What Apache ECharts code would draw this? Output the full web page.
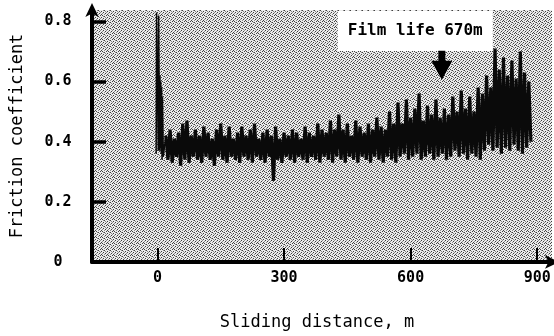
<!DOCTYPE html>
<html>
<head>
<meta charset="utf-8">
<script src="https://cdn.jsdelivr.net/npm/echarts@6/dist/echarts.min.js"></script>
<style>
html, body { margin: 0; padding: 0; background: #fff; }
#chart { width: 554px; height: 336px; }
</style>
</head>
<body>
<div id="chart"></div>
<script>
// run-in spike right at the start of sliding
const startDistance = [-3, -2, 2, 3, 5, 6, 7, 8, 9, 10, 11, 12, 14, 20];
const startFriction = [0.36, 0.83, 0.37, 0.82, 0.37, 0.62, 0.38, 0.60, 0.36, 0.58, 0.34, 0.55, 0.35, 0.42];

// steady part, one bin every 10 m: peak at the bin start, trough 5 m later
const binDistance = [20, 30, 40, 50, 60, 70, 80, 90, 100, 110, 120, 130, 140, 150, 160, 170, 180, 190,
	200, 210, 220, 230, 240, 250, 260, 270, 280, 290, 300, 310, 320, 330, 340, 350, 360, 370, 380, 390,
	400, 410, 420, 430, 440, 450, 460, 470, 480, 490, 500, 510, 520, 530, 540, 550, 560, 570, 580, 590,
	600, 610, 620, 630, 640, 650, 660, 670, 680, 690, 700, 710, 720, 730, 740, 750, 760, 770, 780, 790,
	800, 810, 820, 830, 840, 850, 860, 870, 880];
const binHigh = [0.42, 0.44, 0.41, 0.43, 0.46, 0.47, 0.42, 0.44, 0.42, 0.45, 0.43, 0.41, 0.44, 0.46, 0.42, 0.45, 0.41, 0.43,
	0.45, 0.42, 0.44, 0.46, 0.41, 0.43, 0.44, 0.42, 0.45, 0.41, 0.43, 0.42, 0.44, 0.43, 0.41, 0.45, 0.43, 0.42, 0.46, 0.44,
	0.43, 0.47, 0.44, 0.49, 0.44, 0.46, 0.42, 0.47, 0.45, 0.43, 0.46, 0.44, 0.48, 0.45, 0.44, 0.50, 0.46, 0.53, 0.46, 0.54,
	0.48, 0.51, 0.56, 0.47, 0.52, 0.49, 0.54, 0.48, 0.51, 0.49, 0.55, 0.50, 0.57, 0.51, 0.55, 0.50, 0.58, 0.56, 0.62, 0.58,
	0.71, 0.64, 0.68, 0.62, 0.67, 0.61, 0.70, 0.63, 0.60];
const binLow = [0.34, 0.33, 0.35, 0.32, 0.34, 0.33, 0.35, 0.34, 0.33, 0.35, 0.34, 0.32, 0.35, 0.34, 0.33, 0.35, 0.34, 0.33,
	0.35, 0.34, 0.33, 0.35, 0.34, 0.33, 0.35, 0.27, 0.34, 0.33, 0.35, 0.34, 0.33, 0.35, 0.34, 0.33, 0.35, 0.34, 0.33, 0.35,
	0.34, 0.33, 0.35, 0.34, 0.33, 0.35, 0.34, 0.33, 0.35, 0.34, 0.33, 0.35, 0.34, 0.33, 0.35, 0.34, 0.33, 0.35, 0.36, 0.34,
	0.35, 0.36, 0.34, 0.35, 0.36, 0.34, 0.35, 0.36, 0.34, 0.35, 0.37, 0.35, 0.36, 0.34, 0.36, 0.35, 0.34, 0.37, 0.39, 0.37,
	0.38, 0.36, 0.38, 0.37, 0.39, 0.37, 0.36, 0.38, 0.40];

const xTicks = [0, 300, 600, 900];
const yTicks = [0, 0.2, 0.4, 0.6, 0.8];
const filmLife = 670;

const startTrace = startDistance.map((d, i) => [d, startFriction[i]]);
const trace = [];
binDistance.forEach((d, i) => {
	trace.push([d, binHigh[i]]);
	trace.push([d + 5, binLow[i]]);
});

// halftone screen of the scanned figure
function halftone() {
	const tile = ['LDLLML', 'MLLDLL', 'LLMLLD', 'DLLLDL', 'LMDLLL', 'LLLMLD'];
	const shade = {L: '#ececec', D: '#404040', M: '#8a8a8a'};
	const c = document.createElement('canvas');
	c.width = 6;
	c.height = 6;
	const ctx = c.getContext('2d');
	tile.forEach((row, y) => {
		row.split('').forEach((k, x) => {
			ctx.fillStyle = shade[k];
			ctx.fillRect(x, y, 1, 1);
		});
	});
	return c;
}

const mono = "'DejaVu Sans Mono', monospace";
const chart = echarts.init(document.getElementById('chart'));

chart.setOption({
	animation: false,
	grid: {
		left: 92,
		right: 2,
		top: 10,
		bottom: 64,
		show: true,
		borderWidth: 0,
		backgroundColor: {image: halftone(), repeat: 'repeat'},
	},
	xAxis: {
		type: 'value',
		min: -155,
		max: 935,
		name: 'Sliding distance, m',
		nameLocation: 'middle',
		nameGap: 52,
		nameTextStyle: {fontFamily: mono, fontSize: 17, color: '#000', padding: [0, 10, 0, 0]},
		splitLine: {show: false},
		axisLine: {
			onZero: false,
			symbol: ['none', 'arrow'],
			symbolSize: [10, 14],
			symbolOffset: [0, 7],
			lineStyle: {color: '#000', width: 4},
		},
		axisTick: {inside: true, length: 14, customValues: xTicks, lineStyle: {color: '#000', width: 2}},
		axisLabel: {
			customValues: xTicks,
			margin: 9,
			fontFamily: mono,
			fontWeight: 'bold',
			fontSize: 15,
			color: '#000',
		},
	},
	yAxis: {
		type: 'value',
		min: 0,
		max: 0.838,
		name: 'Friction coefficient',
		nameLocation: 'middle',
		nameRotate: 90,
		nameGap: 66,
		nameTextStyle: {fontFamily: mono, fontSize: 17, color: '#000'},
		splitLine: {show: false},
		axisLine: {
			show: true,
			onZero: false,
			symbol: ['none', 'arrow'],
			symbolSize: [10, 14],
			symbolOffset: [0, 7],
			lineStyle: {color: '#000', width: 4},
		},
		axisTick: {show: true, inside: true, length: 14, customValues: yTicks, lineStyle: {color: '#000', width: 3.5}},
		axisLabel: {
			customValues: yTicks,
			align: 'center',
			margin: 34,
			fontFamily: mono,
			fontWeight: 'bold',
			fontSize: 15,
			color: '#000',
		},
	},
	series: [
		{
			type: 'line',
			data: startTrace,
			symbol: 'none',
			clip: false,
			lineStyle: {color: '#0a0a0a', width: 1.5},
		},
		{
			type: 'line',
			data: trace,
			symbol: 'none',
			clip: false,
			lineStyle: {color: '#0a0a0a', width: 3.2},
			markPoint: {
				silent: true,
				data: [
					{
						coord: [611, 0.768],
						symbol: 'rect',
						symbolSize: [155, 40],
						itemStyle: {color: '#fff'},
						label: {
							show: true,
							position: 'inside',
							formatter: 'Film life ' + filmLife + 'm',
							fontFamily: mono,
							fontWeight: 'bold',
							fontSize: 16,
							color: '#000',
						},
					},
					{
						coord: [filmLife + 4, 0.654],
						symbol: 'path://M7,0 L14,0 L14,10 L21,10 L10.5,29 L0,10 L7,10 Z',
						symbolSize: [21, 29],
						itemStyle: {color: '#000'},
						label: {show: false},
					},
				],
			},
		},
	],
});
</script>
</body>
</html>
